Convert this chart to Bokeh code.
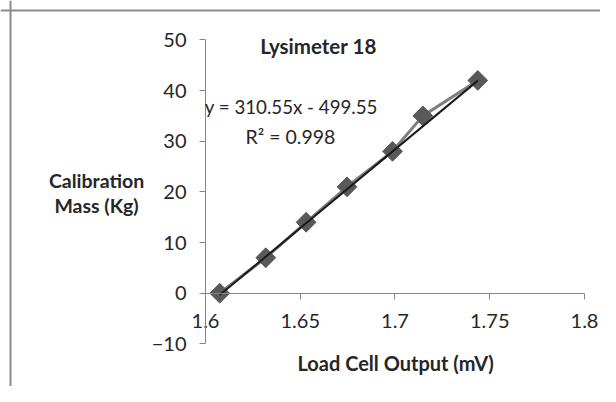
import numpy as np
from bokeh.plotting import figure
from bokeh.models import Label, FixedTicker, Span
from bokeh.embed import file_html
from bokeh.resources import INLINE

# ---- data ----
load_cell_mv = [1.6075, 1.6318, 1.6531, 1.6747, 1.6987, 1.7147, 1.7437]
mass_kg = [0, 7, 14, 21, 28, 35, 42]
trend_slope = 310.55
trend_intercept = -499.55
x_ticks = [1.6, 1.65, 1.7, 1.75, 1.8]
x_tick_labels = ["1.6", "1.65", "1.7", "1.75", "1.8"]
y_ticks = [-10, 0, 10, 20, 30, 40, 50]

FONT = "Lato"
AXIS_GRAY = "#868686"
TEXT = "#262626"

W, H = 600, 386
# frame covers the whole canvas; axes are placed at x=1.6 / y=0 inside it
x_lo = 1.491821
x_hi = x_lo + W / 1895.0
y_hi = 57.77
y_lo = y_hi - H / 5.0667

p = figure(width=W, height=H, output_backend="svg", toolbar_location=None,
           x_range=(x_lo, x_hi), y_range=(y_lo, y_hi),
           min_border=0, min_border_left=0, min_border_right=0,
           min_border_top=0, min_border_bottom=0)
p.outline_line_color = None
p.xgrid.visible = False
p.ygrid.visible = False

p.xaxis.fixed_location = 0
p.yaxis.fixed_location = 1.6
p.xaxis.bounds = (1.6, 1.8)
p.yaxis.bounds = (-10, 50)
p.xaxis.ticker = FixedTicker(ticks=x_ticks)
p.xaxis.major_label_overrides = {t: l for t, l in zip(x_ticks, x_tick_labels)}
p.yaxis.ticker = FixedTicker(ticks=y_ticks)
for ax in (p.xaxis[0], p.yaxis[0]):
    ax.axis_line_color = AXIS_GRAY
    ax.major_tick_line_color = AXIS_GRAY
    ax.minor_tick_line_color = None
    ax.major_tick_in = 0
    ax.major_tick_out = 6
    ax.major_label_text_font = FONT
    ax.major_label_text_font_size = "20px"
    ax.major_label_text_color = TEXT
p.xaxis.major_label_standoff = 15
p.yaxis.major_label_standoff = 13

# chart-area border (top and left edges visible)
px_x = (x_hi - x_lo) / W
px_y = (y_hi - y_lo) / H
p.add_layout(Span(location=x_lo + 10 * px_x, dimension="height", line_color="#8c8c8c", line_width=2))
p.add_layout(Span(location=y_hi - 10 * px_y, dimension="width", line_color="#8c8c8c", line_width=2))

# series
p.line(load_cell_mv, mass_kg, line_color="#7f7f7f", line_width=3)
p.scatter(load_cell_mv, mass_kg, marker="square", angle=np.pi / 4, size=14,
          fill_color="#595959", line_color="#595959")

# linear trend line
tx = np.array([min(load_cell_mv), max(load_cell_mv)])
p.line(tx, trend_slope * tx + trend_intercept, line_color="#1a1a1a", line_width=2)

def lab(x, y, text, bold=False, size="19px"):
    p.add_layout(Label(x=x, y=y, text=text, text_font=FONT, text_font_size=size,
                       text_font_style="bold" if bold else "normal", text_color=TEXT,
                       text_align="center", text_baseline="middle"))

lab(1.6596, 48.85, "Lysimeter 18", bold=True, size="20.5px")
lab(1.6453, 36.8, "y = 310.55x - 499.55", size="18.7px")
lab(1.6448, 31.0, "R\u00b2 = 0.998", size="19.5px")
lab(1.5425, 22.2, "Calibration", bold=True, size="19.5px")
lab(1.5425, 17.3, "Mass (Kg)", bold=True, size="19.5px")
lab(1.7003, -13.68, "Load Cell Output (mV)", bold=True, size="20px")

open("out.html", "w").write(file_html(p, INLINE))
